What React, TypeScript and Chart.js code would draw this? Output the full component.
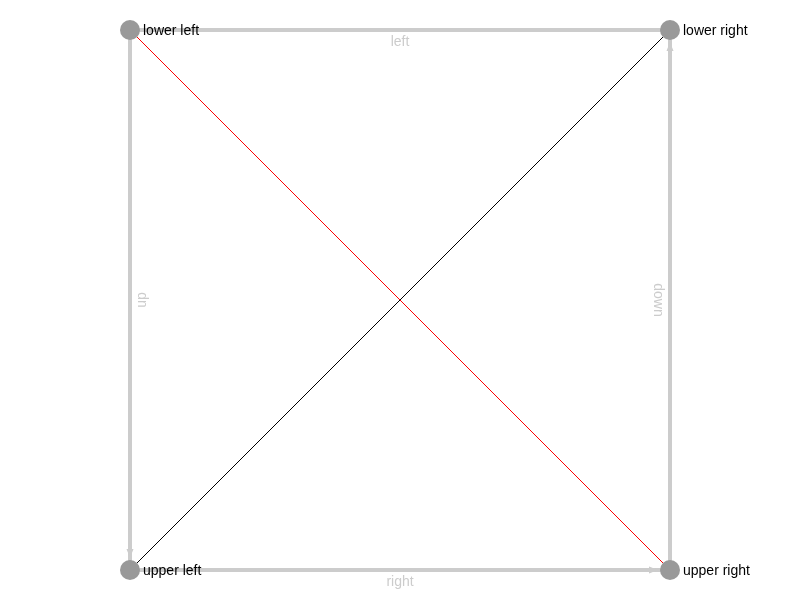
import { useEffect, useRef } from "react"
import { Chart, registerables } from "chart.js"

Chart.register(...registerables)

// nodes
const nodeNames = ["lower left", "lower right", "upper left", "upper right"]
const nodeX = [0, 1, 0, 1]
const nodeY = [1, 1, 0, 0]

// edges: [source, target, label, color, width, arrow]
const edgeSource = [0, 2, 3, 1, 0, 2]
const edgeTarget = [2, 3, 1, 0, 3, 1]
const edgeLabels = ["up", "right", "down", "left", "", ""]
const edgeColors = ["#cccccc", "#cccccc", "#cccccc", "#cccccc", "#ff0000", "#000000"]
const edgeWidths = [4, 4, 4, 4, 1, 1]
const edgeArrows = [true, true, true, true, false, false]

const NODE_R = 10

const graphPlugin = {
  id: "graph",
  beforeDatasetsDraw(chart: Chart) {
    const ctx = chart.ctx
    const xs = chart.scales.x
    const ys = chart.scales.y
    const px = (i: number) => xs.getPixelForValue(nodeX[i])
    const py = (i: number) => ys.getPixelForValue(nodeY[i])
    ctx.save()
    edgeSource.forEach((s, k) => {
      const t = edgeTarget[k]
      const x1 = px(s), y1 = py(s), x2 = px(t), y2 = py(t)
      const ang = Math.atan2(y2 - y1, x2 - x1)
      ctx.strokeStyle = edgeColors[k]
      ctx.lineWidth = edgeWidths[k]
      ctx.beginPath()
      ctx.moveTo(x1, y1)
      ctx.lineTo(x2, y2)
      ctx.stroke()
      if (edgeArrows[k]) {
        const tipX = x2 - Math.cos(ang) * (NODE_R + 4)
        const tipY = y2 - Math.sin(ang) * (NODE_R + 4)
        ctx.save()
        ctx.translate(tipX, tipY)
        ctx.rotate(ang)
        ctx.fillStyle = edgeColors[k]
        ctx.beginPath()
        ctx.moveTo(2, 0)
        ctx.lineTo(-7, -3.5)
        ctx.lineTo(-7, 3.5)
        ctx.closePath()
        ctx.fill()
        ctx.restore()
      }
      if (edgeLabels[k]) {
        let rot = -ang
        if (rot > Math.PI / 2) rot -= Math.PI
        if (rot < -Math.PI / 2) rot += Math.PI
        ctx.save()
        ctx.translate((x1 + x2) / 2, (y1 + y2) / 2)
        ctx.rotate(rot)
        ctx.fillStyle = "#cccccc"
        ctx.font = "14px 'Liberation Sans', Arial, sans-serif"
        ctx.textAlign = "center"
        ctx.textBaseline = "middle"
        ctx.fillText(edgeLabels[k], 0, 12)
        ctx.restore()
      }
    })
    ctx.restore()
  },
  afterDatasetsDraw(chart: Chart) {
    const ctx = chart.ctx
    const xs = chart.scales.x
    const ys = chart.scales.y
    ctx.save()
    ctx.fillStyle = "#000000"
    ctx.font = "14px 'Liberation Sans', Arial, sans-serif"
    ctx.textAlign = "left"
    ctx.textBaseline = "middle"
    nodeNames.forEach((name, i) => {
      ctx.fillText(name, xs.getPixelForValue(nodeX[i]) + NODE_R + 3, ys.getPixelForValue(nodeY[i]) + 1)
    })
    ctx.restore()
  },
}

export default function App() {
  const chartRef = useRef<HTMLCanvasElement>(null)
  const chartInstance = useRef<Chart | null>(null)

  useEffect(() => {
    document.body.style.margin = "0"
    if (!chartRef.current) return
    if (chartInstance.current) chartInstance.current.destroy()
    const ctx = chartRef.current.getContext("2d")
    if (!ctx) return
    chartInstance.current = new Chart(ctx, {
      type: "scatter",
      data: {
        datasets: [
          {
            data: nodeX.map((x, i) => ({ x, y: nodeY[i] })),
            backgroundColor: "#999999",
            borderWidth: 0,
            pointRadius: NODE_R,
            pointHoverRadius: NODE_R,
            clip: false,
          },
        ],
      },
      options: {
        animation: false,
        responsive: true,
        maintainAspectRatio: false,
        layout: { padding: 0, autoPadding: false },
        plugins: { legend: { display: false }, tooltip: { enabled: false } },
        scales: {
          x: { type: "linear", display: false, min: -130 / 540, max: 1 + 130 / 540 },
          y: { type: "linear", display: false, min: -30 / 540, max: 1 + 30 / 540 },
        },
      },
      plugins: [graphPlugin],
    })
    return () => {
      if (chartInstance.current) {
        chartInstance.current.destroy()
        chartInstance.current = null
      }
    }
  }, [])

  return (
    <div style={{ width: 800, height: 600, position: "relative" }}>
      <canvas ref={chartRef} />
    </div>
  )
}
